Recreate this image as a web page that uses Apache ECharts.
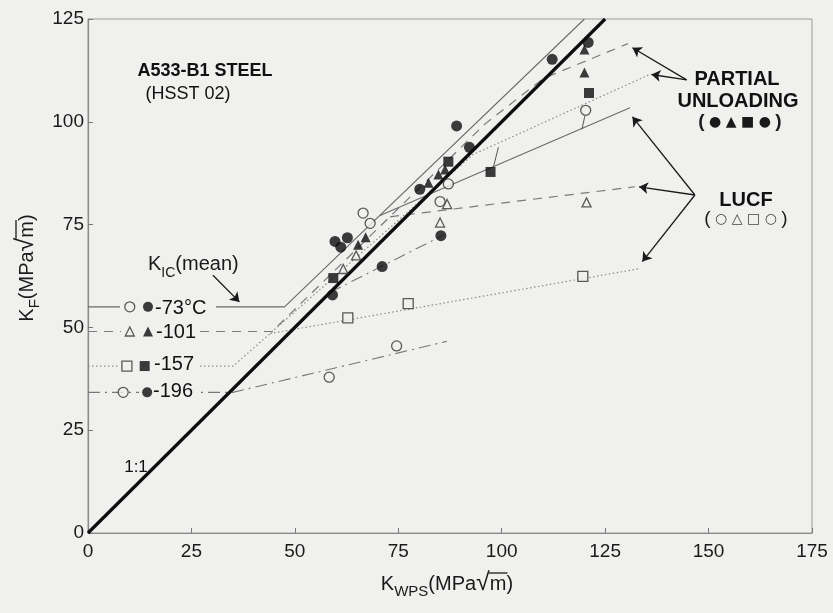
<!DOCTYPE html>
<html><head><meta charset="utf-8">
<script src="https://cdn.jsdelivr.net/npm/echarts@6/dist/echarts.min.js"></script>
<style>html,body{margin:0;padding:0;background:#f0f0ee}#c{width:833px;height:613px}</style>
</head><body><div id="c"></div>
<script>
// ---------- axis ticks ----------
const xTicks = [0, 25, 50, 75, 100, 125, 150, 175];
const yTicks = [0, 25, 50, 75, 100, 125];

// ---------- curves (K_F vs K_WPS, MPa√m) ----------
const line11   = [[0, 0], [125, 125]];
const kic73    = [[0, 55], [47.5, 55], [120, 125]];
const kic101   = [[0, 49], [44.5, 49], [96, 99.5], [110, 110.5], [130.5, 119]];
const kic157   = [[0, 40.6], [35.1, 40.6], [44, 48.5], [93, 92], [135.5, 111.4]];
const kic196   = [[0, 34.2], [35, 34.2], [86.7, 46.6]];
const lucf73   = [[70.6, 77.2], [131, 103.4]];
const lucf101  = [[73, 76.9], [132.2, 84.2]];
const lucf157  = [[44, 48.5], [133.4, 64.3]];
const pu196    = [[58.5, 58.5], [86, 72.5]];
const tie1     = [[120.1, 101.4], [119.4, 98.2]];
const tie2     = [[98, 89], [99.2, 93.8]];

// ---------- measured points ----------
const lucfCircle = [[66.5, 77.8], [68.2, 75.3], [85.1, 80.6], [87.1, 84.9], [120.3, 102.8], [74.6, 45.5], [58.3, 37.9]];
const lucfTri    = [[61.7, 64.2], [64.8, 67.5], [85.1, 75.5], [86.8, 80], [120.5, 80.4]];
const lucfSquare = [[62.8, 52.3], [77.4, 55.8], [119.6, 62.4]];
const puCircle   = [[59.7, 70.9], [61.1, 69.5], [62.7, 71.8], [80.2, 83.6], [89.1, 99], [92.2, 93.8], [112.2, 115.2], [120.9, 119.3], [59.1, 57.9], [71.1, 64.8], [85.3, 72.3]];
const puTri      = [[65.3, 70.1], [67.1, 71.9], [82.3, 85.2], [84.7, 87.2], [86.3, 88.4], [120, 112], [120, 117.6]];
const puSquare   = [[59.3, 62], [87.1, 90.3], [97.3, 87.8], [121.1, 107]];

// ---------- key symbols beside the K_IC lines ----------
const keyOpenCircle   = [[10.1, 55], [8.5, 34.2]];
const keyFilledCircle = [[14.5, 55], [14.3, 34.2]];
const keyOpenTri      = [[10.1, 49]];
const keyFilledTri    = [[14.5, 49]];
const keyOpenSquare   = [[9.4, 40.6]];
const keyFilledSquare = [[13.7, 40.6]];

// ---------- annotation arrows ----------
const puArrows   = [[[144.7, 110.2], [131.6, 118]], [[144.7, 110.2], [136.2, 111.5]]];
const lucfArrows = [[[146.7, 82.2], [131.6, 101.2]], [[146.7, 82.2], [133.2, 84.2]], [[146.7, 82.2], [134, 66]]];
const kicArrow   = [[[30.2, 62.7], [36.6, 56.2]]];

const BG = '#f0f0ee';
const FONT = '"Liberation Sans", Arial, sans-serif';
const SYM = '"DejaVu Sans", sans-serif';

function ln(data, color, width, type, z) {
  return { type: 'line', data: data, symbol: 'none', silent: true, animation: false, z: z || 2,
    lineStyle: { color: color, width: width, type: type || 'solid' } };
}
function sc(data, symbol, size, open) {
  return { type: 'scatter', data: data, symbol: symbol, symbolSize: size, silent: true, animation: false, z: 10,
    itemStyle: open ? { color: BG, borderColor: '#333', borderWidth: 1.3 } : { color: '#0d0d0d' } };
}
function arrows(list) {
  return { type: 'lines', coordinateSystem: 'cartesian2d', silent: true, animation: false, z: 6,
    symbol: ['none', 'arrow'], symbolSize: 9,
    lineStyle: { color: '#1a1a1a', width: 1.3, opacity: 1 },
    data: list.map(c => ({ coords: c })) };
}

const ctx = document.createElement('canvas').getContext('2d');
function tw(t, font) { ctx.font = font; return ctx.measureText(t).width; }
// composite text: parts = [{t, font, dy, over}]
function composite(cx, cy, parts, rot, align) {
  let total = 0;
  parts.forEach(p => { p.w = tw(p.t, p.font); total += p.w; });
  let x = align === 'left' ? 0 : -total / 2;
  const children = [];
  parts.forEach(p => {
    children.push({ type: 'text', x: x, y: p.dy || 0, z: 20,
      style: { text: p.t, font: p.font, fill: p.fill || '#1a1a1a', align: 'left', verticalAlign: 'middle' } });
    if (p.over) {
      children.push({ type: 'line', z: 20, shape: { x1: x - 1, y1: p.over, x2: x + p.w + 1, y2: p.over },
        style: { stroke: '#1a1a1a', lineWidth: 1.3 } });
    }
    x += p.w;
  });
  return { type: 'group', x: cx, y: cy, rotation: rot || 0, z: 20, children: children };
}
function cover(x, y, w, h) {
  return { type: 'rect', z: 5, shape: { x: x, y: y, width: w, height: h }, style: { fill: BG } };
}

const F20 = '20px ' + FONT, F15 = '15px ' + FONT;
const nameParts = sub => [{ t: 'K', font: F20 }, { t: sub, font: F15, dy: 8 }, { t: '(MPa', font: F20 },
  { t: '√', font: '25px ' + FONT, dy: -1 }, { t: 'm', font: F20, over: -11 }, { t: ')', font: F20 }];
const graphics = [
  { type: 'text', x: 205, y: 71, z: 20, style: { text: 'A533-B1 STEEL', font: 'bold 18px ' + FONT, fill: '#111', align: 'center', verticalAlign: 'middle' } },
  { type: 'text', x: 188, y: 94, z: 20, style: { text: '(HSST 02)', font: '18px ' + FONT, fill: '#111', align: 'center', verticalAlign: 'middle' } },
  composite(148, 264, [{ t: 'K', font: F20 }, { t: 'IC', font: '14px ' + FONT, dy: 9 }, { t: '(mean)', font: F20 }], 0, 'left'),
  { type: 'text', x: 136, y: 467, z: 20, style: { text: '1:1', font: '17px ' + FONT, fill: '#111', align: 'center', verticalAlign: 'middle' } },
  { type: 'text', x: 737, y: 79, z: 20, style: { text: 'PARTIAL', font: 'bold 20px ' + FONT, fill: '#111', align: 'center', verticalAlign: 'middle' } },
  { type: 'text', x: 738, y: 101, z: 20, style: { text: 'UNLOADING', font: 'bold 20px ' + FONT, fill: '#111', align: 'center', verticalAlign: 'middle' } },
  composite(740, 122, [{ t: '(', font: 'bold 19px ' + FONT }, { t: ' ● ▲ ■ ● ', font: '14px ' + SYM }, { t: ')', font: 'bold 19px ' + FONT }]),
  { type: 'text', x: 746, y: 200, z: 20, style: { text: 'LUCF', font: 'bold 20px ' + FONT, fill: '#111', align: 'center', verticalAlign: 'middle' } },
  composite(746, 219, [{ t: '(', font: '19px ' + FONT }, { t: ' ○ △ □ ○ ', font: '14px ' + SYM, fill: '#444' }, { t: ')', font: '19px ' + FONT }]),
  cover(120, 299, 96, 18), cover(121, 323, 78, 17), cover(119, 355, 80, 18), cover(139, 383, 60, 17),
  { type: 'text', x: 155, y: 308, z: 20, style: { text: '-73°C', font: F20, fill: '#111', align: 'left', verticalAlign: 'middle' } },
  { type: 'text', x: 156, y: 332, z: 20, style: { text: '-101', font: F20, fill: '#111', align: 'left', verticalAlign: 'middle' } },
  { type: 'text', x: 154, y: 364, z: 20, style: { text: '-157', font: F20, fill: '#111', align: 'left', verticalAlign: 'middle' } },
  { type: 'text', x: 153, y: 391, z: 20, style: { text: '-196', font: F20, fill: '#111', align: 'left', verticalAlign: 'middle' } },
  composite(447, 584, nameParts('WPS')),
  composite(27, 268, nameParts('F'), Math.PI / 2)
];

const axisCommon = {
  axisLine: { show: true, lineStyle: { color: '#8a8a8a', width: 1.2 } },
  axisTick: { show: true, inside: true, length: 5, lineStyle: { color: '#777' } },
  splitLine: { show: false },
  axisLabel: { color: '#1a1a1a', fontSize: 19, fontFamily: 'Liberation Sans' }
};

const chart = echarts.init(document.getElementById('c'), null, { renderer: 'canvas' });
chart.setOption({
  backgroundColor: BG,
  animation: false,
  grid: { left: 88, right: 21, top: 19, bottom: 80, show: true, borderColor: '#9a9a9a', borderWidth: 1, backgroundColor: 'transparent' },
  xAxis: Object.assign({ type: 'value', min: xTicks[0], max: xTicks[xTicks.length - 1], interval: 25 }, axisCommon,
    { axisLabel: Object.assign({}, axisCommon.axisLabel, { margin: 9 }) }),
  yAxis: Object.assign({ type: 'value', min: yTicks[0], max: yTicks[yTicks.length - 1], interval: 25 }, axisCommon,
    { axisLabel: Object.assign({}, axisCommon.axisLabel, { margin: 4 }) }),
  graphic: graphics,
  series: [
    ln(kic73, '#6a6a6a', 1.1, 'solid'),
    ln(kic101, '#7a7a7a', 1.2, [9, 7]),
    ln(kic157, '#8a8a8a', 1.2, [1.5, 2.5]),
    ln(kic196, '#777', 1.1, [12, 5, 2, 5]),
    ln(lucf73, '#6a6a6a', 1.1, 'solid'),
    ln(lucf101, '#7a7a7a', 1.2, [9, 7]),
    ln(lucf157, '#8a8a8a', 1.2, [1.5, 2.5]),
    ln(pu196, '#777', 1.1, [12, 5, 2, 5]),
    ln(tie1, '#555', 1, 'solid'),
    ln(tie2, '#555', 1, 'solid'),
    ln(line11, '#0d0d0d', 3.2, 'solid', 4),
    arrows(puArrows), arrows(lucfArrows), arrows(kicArrow),
    sc(lucfCircle, 'circle', 10, true),
    sc(lucfTri, 'triangle', 9, true),
    sc(lucfSquare, 'rect', 10, true),
    sc(puCircle, 'circle', 11, false),
    sc(puTri, 'triangle', 10, false),
    sc(puSquare, 'rect', 10, false),
    sc(keyOpenCircle, 'circle', 10, true),
    sc(keyFilledCircle, 'circle', 10, false),
    sc(keyOpenTri, 'triangle', 9, true),
    sc(keyFilledTri, 'triangle', 10, false),
    sc(keyOpenSquare, 'rect', 10, true),
    sc(keyFilledSquare, 'rect', 10, false)
  ]
});
</script></body></html>
